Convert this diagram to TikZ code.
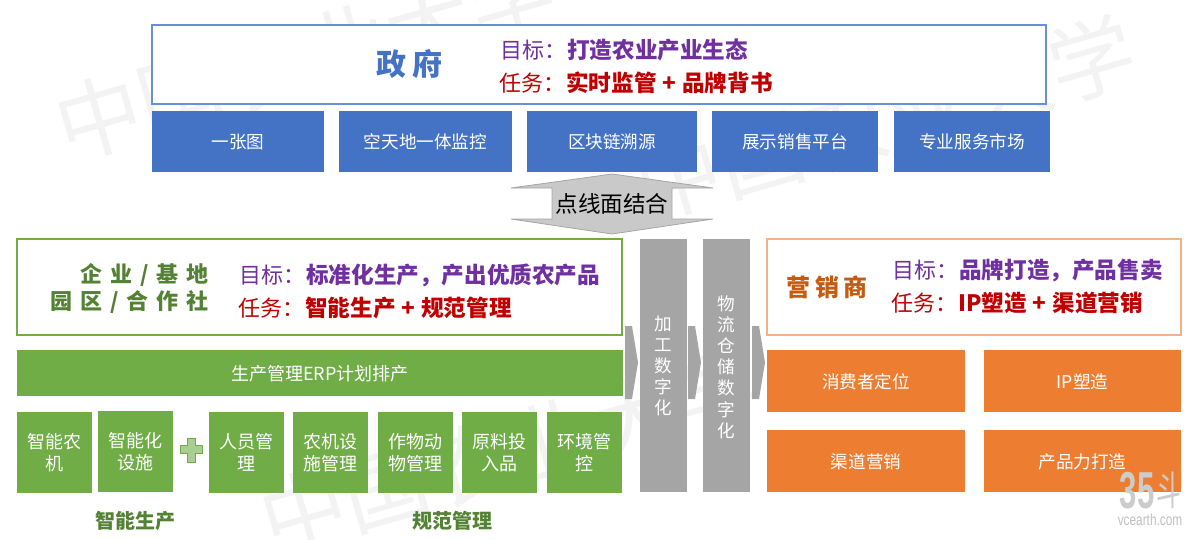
\documentclass[tikz,border=0pt]{standalone}
\usepackage{fontspec}
\setmainfont{Noto Sans CJK SC}
\setsansfont{Liberation Sans}
\definecolor{blueb}{HTML}{4472C4}
\definecolor{bluel}{HTML}{6A8FD6}
\definecolor{greenb}{HTML}{70AD47}
\definecolor{greend}{HTML}{548235}
\definecolor{orangeb}{HTML}{ED7D31}
\definecolor{orangel}{HTML}{F4B183}
\definecolor{oranged}{HTML}{C55A11}
\definecolor{grayb}{HTML}{A5A5A5}
\definecolor{purp}{HTML}{7030A0}
\definecolor{redd}{HTML}{C00000}
\definecolor{wm}{HTML}{F3F3F3}
\newcommand{\fs}[2]{\fontsize{#1}{#2}\selectfont}
\newcommand{\bld}[1]{\textbf{\fontsize{22.6}{26}\selectfont #1}}
\newcommand{\pl}{\hspace{6pt}+\hspace{6pt}}
\tikzset{
  lab/.style={anchor=west,inner sep=0pt,font=\fs{22}{26}},
  watermark/.style={text=wm,rotate=16,inner sep=0pt,font=\fs{86}{90}},
}
\begin{document}
\begin{tikzpicture}[x=1pt,y=-1pt]
\useasboundingbox (0,0) rectangle (1197,539);
% watermarks
\node[watermark] (wma) at (305,58) {中国农业大学};
\node[watermark] (wmb) at (885,118) {中国农业大学};
\node[watermark] (wmc) at (510,452) {中国农业大学};
% government
\draw[draw=bluel,line width=1.2pt,fill=white] (152,25) rectangle (1046,104);
\node[inner sep=0pt,text=blueb,font=\bfseries\fs{30}{32}] (gov) at (409,64) {政\hspace{6pt}府};
\node[lab,text=purp] (g1) at (500,50) {目标：\hspace{1pt}\bld{打造农业产业生态}};
\node[lab,text=redd] (g2) at (499,83) {任务：\hspace{1pt}\bld{实时监管\pl 品牌背书}};
% blue boxes
\foreach \n/\a/\b/\t in {b1/152/324/一张图,b2/339/512/空天地一体监控,b3/527/697/区块链溯源,b4/712/878/展示销售平台,b5/894/1050/专业服务市场}{
  \fill[blueb] (\a,111) rectangle (\b,172);
  \node[inner sep=0pt,text=white,font=\fs{17.6}{22}] (\n) at ({(\a+\b)/2},142) {\t};
}
% double arrow
\draw[fill=black!21,draw=grayb,line width=.8pt,line join=miter]
  (612,174) -- (713,188) -- (672,188) -- (672,219) -- (713,219) -- (612,234)
  -- (511,219) -- (552,219) -- (552,188) -- (511,188) -- cycle;
\node[inner sep=0pt,text=black,font=\fs{22.6}{26}] (dot) at (612,204) {点线面结合};
% left panel
\draw[draw=greenb,line width=1.2pt,fill=white] (17,239) rectangle (622,335);
\node[inner sep=0pt,text=greend,align=right,anchor=east,font=\bfseries\fs{22}{27}] (ent) at (209,289)
  {企\hspace{8pt}业\hspace{8pt}/\hspace{8pt}基\hspace{8pt}地\\园\hspace{8pt}区\hspace{8pt}/\hspace{8pt}合\hspace{8pt}作\hspace{8pt}社};
\node[lab,text=purp] (l1) at (239,275) {目标：\hspace{1pt}\bld{标准化生产，产出优质农产品}};
\node[lab,text=redd] (l2) at (238,308) {任务：\hspace{1pt}\bld{智能生产\pl 规范管理}};
\fill[greenb] (17,350) rectangle (623,396);
\node[inner sep=0pt,text=white,font=\fs{18}{22}] (erp) at (320,374) {生产管理ERP计划排产};
\foreach \n/\a/\b/\ya/\yb/\t in {s1/17/92/412/493/智能农\\机,s2/98/173/411/492/智能化\\设施,s3/209/284/412/493/人员管\\理,s4/293/368/412/493/农机设\\施管理,s5/378/453/412/493/作物动\\物管理,s6/462/537/412/493/原料投\\入品,s7/547/622/412/493/环境管\\控}{
  \fill[greenb] (\a,\ya) rectangle (\b,\yb);
  \node[inner sep=0pt,text=white,align=center,font=\fs{18}{22}] (\n) at ({(\a+\b)/2},{(\ya+\yb)/2}) {\t};
}
\draw[fill=greenb!60,draw=greenb,line width=.8pt]
  (187,438) -- (195,438) -- (195,445) -- (202,445) -- (202,453) -- (195,453) -- (195,462)
  -- (187,462) -- (187,453) -- (180,453) -- (180,445) -- (187,445) -- cycle;
\node[inner sep=0pt,text=greend,font=\bfseries\fs{20}{22}] (zn) at (135,521) {智能生产};
\node[inner sep=0pt,text=greend,font=\bfseries\fs{20}{22}] (gf) at (452,521) {规范管理};
% gray columns
\fill[grayb] (640,239) rectangle (687,492);
\fill[grayb] (703,239) rectangle (750,492);
\node[inner sep=0pt,text=white,align=center,font=\fs{17.6}{21.2}] (c1) at (663.5,366) {加\\工\\数\\字\\化};
\node[inner sep=0pt,text=white,align=center,font=\fs{17.6}{21.2}] (c2) at (726.5,367) {物\\流\\仓\\储\\数\\字\\化};
\foreach \x in {625,688,752}{
  \fill[grayb] (\x,326) -- ({\x+7},326) -- ({\x+13},362.5) -- ({\x+7},399) -- (\x,399) -- cycle;
}
% right panel
\draw[draw=orangel,line width=1.2pt,fill=white] (767,239) rectangle (1181,335);
\node[inner sep=0pt,text=oranged,font=\bfseries\fs{24}{26}] (mk) at (827,287) {营\hspace{5pt}销\hspace{5pt}商};
\node[lab,text=purp] (r1) at (892,271) {目标：\hspace{1pt}\bld{品牌打造，产品售卖}};
\node[lab,text=redd] (r2) at (891,303) {任务：\hspace{1pt}\bld{IP塑造\pl 渠道营销}};
\foreach \n/\a/\b/\ya/\yb/\t in {o1/767/965/350/412/消费者定位,o2/984/1181/350/412/IP塑造,o3/767/965/430/492/渠道营销,o4/984/1181/430/492/产品力打造}{
  \fill[orangeb] (\a,\ya) rectangle (\b,\yb);
  \node[inner sep=0pt,text=white,font=\fs{17.6}{22}] (\n) at ({(\a+\b)/2},{(\ya+\yb)/2+1}) {\t};
}
% logo
\node[inner sep=0pt,text=black!20,font=\sffamily\bfseries\fs{52}{56},xscale=.6] (l35) at (1137,491) {35};
\node[inner sep=0pt,text=black!20,font=\fs{40}{44},xscale=.62] (ldou) at (1169,490) {斗};
\node[inner sep=0pt,text=black!25,font=\sffamily\fs{16}{18},xscale=.74] (lvc) at (1150,520) {vcearth.com};
\end{tikzpicture}
\end{document}
